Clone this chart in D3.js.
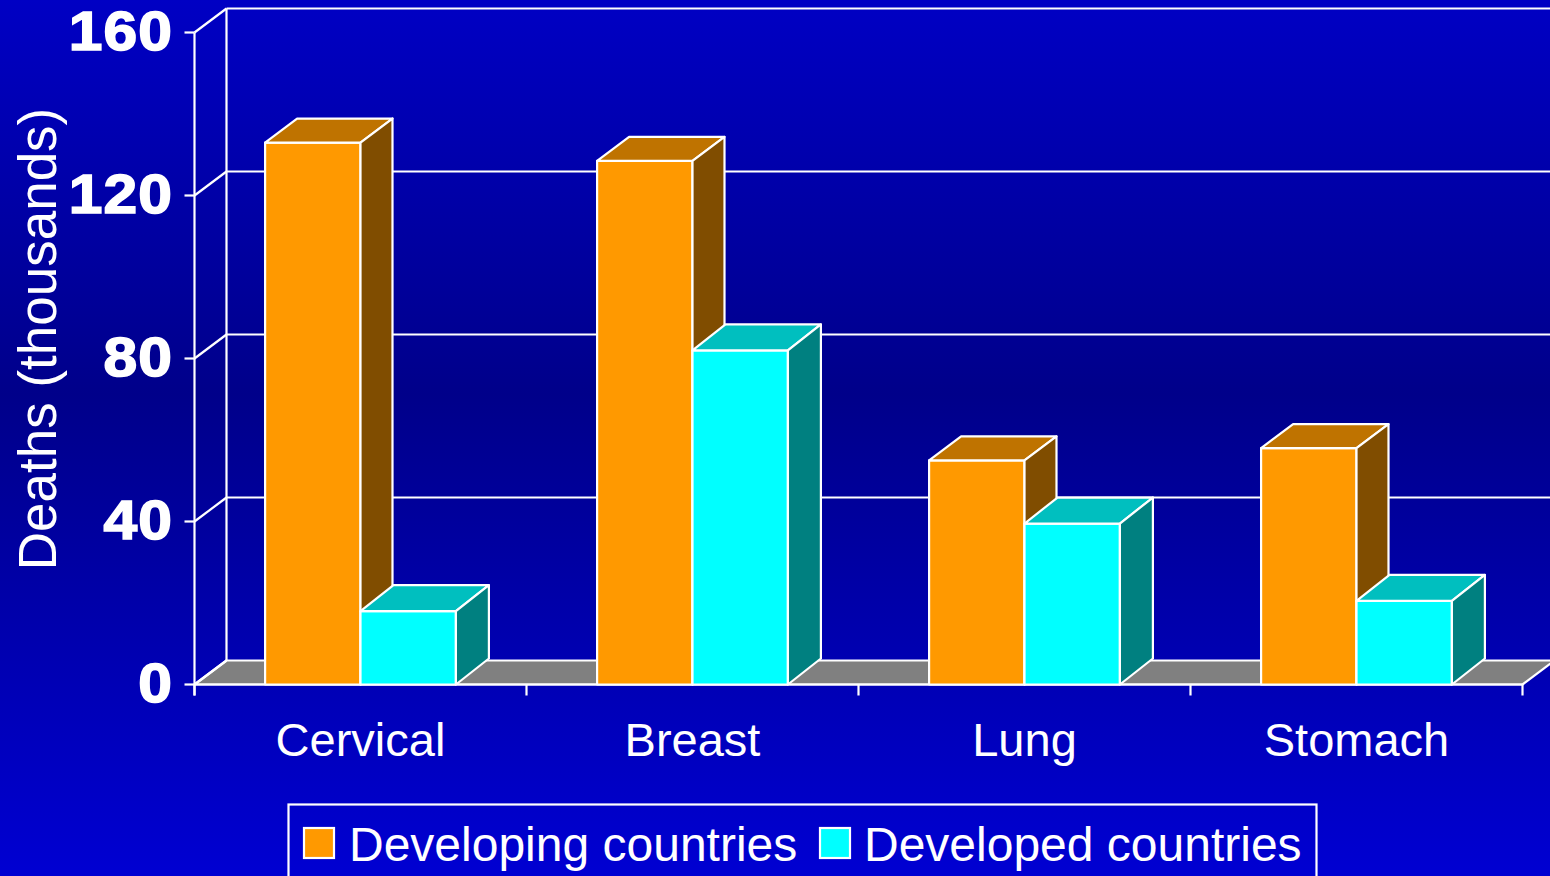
<!DOCTYPE html>
<html><head><meta charset="utf-8">
<script src="https://cdn.jsdelivr.net/npm/d3@7/dist/d3.min.js"></script>
<style>html,body{margin:0;padding:0;background:#0000c0;overflow:hidden}svg{display:block}text{font-family:"Liberation Sans",Arial,sans-serif;fill:#fff}</style>
</head><body><svg id="c" width="1550" height="876"></svg>
<script>
const categories = ["Cervical","Breast","Lung","Stomach"];
const seriesNames = ["Developing countries","Developed countries"];
const developing = [133,128.5,55,58];
const developed = [18,82,39.5,20.5];
const yTicks = [0,40,80,120,160];
const axisTitle = "Deaths (thousands)";

const svg = d3.select("#c");
const W=1550,H=876;
const defs = svg.append("defs");
const g = defs.append("linearGradient").attr("id","bg").attr("x1",0).attr("y1",0).attr("x2",0).attr("y2",1);
[[0,"#0000c4"],[0.45,"#00008a"],[1,"#0000d2"]].forEach(s=>g.append("stop").attr("offset",s[0]).attr("stop-color",s[1]));
svg.append("rect").attr("width",W).attr("height",H).attr("fill","url(#bg)");

const y = d3.scaleLinear().domain([0,160]).range([684.5,32.5]);
const x0 = d3.scaleBand().domain(categories).range([194.5,1522.5]);
const x1 = d3.scaleBand().domain([0,1]).range([0,x0.bandwidth()]).paddingInner(0).paddingOuter(0.74);
const DX=32, DY=-24;
const styles=[{front:"#ff9900",top:"#bf7300",side:"#804d00",dx:32,dy:-24},{front:"#00ffff",top:"#00bfbf",side:"#008080",dx:33,dy:-26}];
const SW=2.2;
const line=(a,b,c,d,w=SW)=>svg.append("line").attr("x1",a).attr("y1",b).attr("x2",c).attr("y2",d).attr("stroke","#fff").attr("stroke-width",w);
const poly=(pts,fill)=>svg.append("polygon").attr("points",pts.map(p=>p.join(",")).join(" ")).attr("fill",fill).attr("stroke","#fff").attr("stroke-width",SW).attr("stroke-linejoin","round");

const xL=x0.range()[0], xR=x0.range()[1];
// floor
poly([[xL,y(0)],[xL+DX,y(0)+DY],[xR+DX,y(0)+DY],[xR,y(0)]],"#808080");
// walls
line(xL,y(160),xL,y(0)+11);
line(xL+DX,y(160)+DY,xL+DX,y(0)+DY);
yTicks.forEach(t=>{
  line(xL-10,y(t),xL,y(t));
  line(xL,y(t),xL+DX,y(t)+DY);
  if(t>0) line(xL+DX,y(t)+DY,xR+DX,y(t)+DY);
  svg.append("text").attr("transform",`translate(173,${y(t)+17}) scale(1.1,1)`).attr("text-anchor","end")
   .attr("font-size",55).attr("font-weight","bold").attr("stroke","#fff").attr("stroke-width",1.6).style("letter-spacing","1px").text(t);
});
line(xL,y(0),xR,y(0));
categories.concat(["end"]).forEach((c,i)=>{const px=i<4?x0(c):xR; line(px,y(0),px,y(0)+11);});

// bars
categories.forEach((c,i)=>{
  [developing[i],developed[i]].forEach((v,s)=>{
    const st=styles[s], xa=x0(c)+x1(s), xb=xa+x1.bandwidth(), yt=y(v), yb=y(0);
    poly([[xa,yb],[xa,yt],[xb,yt],[xb,yb]],st.front);
    poly([[xa,yt],[xa+st.dx,yt+st.dy],[xb+st.dx,yt+st.dy],[xb,yt]],st.top);
    poly([[xb,yt],[xb+st.dx,yt+st.dy],[xb+st.dx,yb+st.dy],[xb,yb]],st.side);
  });
  svg.append("text").attr("x",x0(c)+x0.bandwidth()/2).attr("y",756).attr("text-anchor","middle").attr("font-size",47).text(c);
});
// axis title
svg.append("text").attr("transform","translate(56,339) rotate(-90)").attr("text-anchor","middle").attr("font-size",53).text(axisTitle);
// legend
svg.append("rect").attr("x",288.5).attr("y",804.5).attr("width",1028).attr("height",90).attr("fill","none").attr("stroke","#fff").attr("stroke-width",SW);
[[304,349],[820,864]].forEach((p,i)=>{
  svg.append("rect").attr("x",p[0]).attr("y",828).attr("width",30).attr("height",30).attr("fill",styles[i].front).attr("stroke","#fff").attr("stroke-width",SW);
  svg.append("text").attr("x",p[1]).attr("y",861).attr("font-size",48).text(seriesNames[i]);
});
</script></body></html>
